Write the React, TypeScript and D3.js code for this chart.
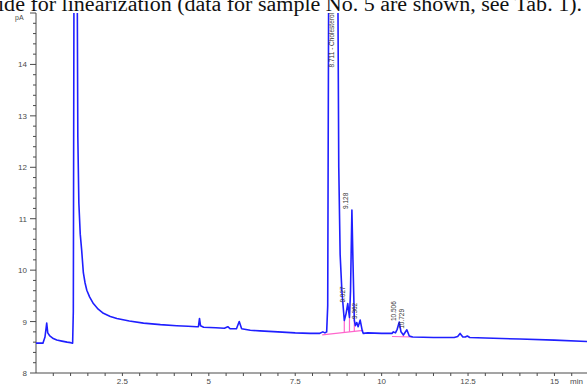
import React from 'react';
import * as d3 from 'd3';

// chromatogram trace (time in min, signal in pA)
const timeMin = [
  0.0, 0.2, 0.26, 0.31, 0.34, 0.4, 0.5, 0.6, 0.75, 0.9, 1.0, 1.06, 1.08, 1.1, 1.19,
  1.21, 1.24, 1.28, 1.32, 1.37, 1.42, 1.47, 1.55, 1.66, 1.8, 1.95, 2.15, 2.34, 2.7,
  3.11, 3.6, 4.07, 4.4, 4.65, 4.7, 4.73, 4.76, 4.85, 5.2, 5.45, 5.55, 5.62, 5.8, 5.88,
  5.95, 6.2, 6.48, 7.0, 7.5, 7.93, 8.2, 8.3, 8.36, 8.41, 8.44, 8.47, 8.73, 8.76, 8.8,
  8.85, 8.92, 8.97, 9.02, 9.07, 9.1, 9.14, 9.17, 9.21, 9.24, 9.28, 9.32, 9.38, 9.44,
  9.47, 9.6, 10.0, 10.3, 10.34, 10.4, 10.45, 10.51, 10.56, 10.63, 10.73, 10.8, 10.9,
  11.5, 12.1, 12.2, 12.27, 12.35, 12.42, 12.48, 12.55, 13.0, 14.0, 15.0, 16.0,
];
const signalPA = [
  8.58, 8.58, 8.7, 8.97, 8.78, 8.72, 8.67, 8.64, 8.62, 8.6, 8.59, 8.58, 9.2, 16, 16,
  12.6, 11.3, 10.7, 10.4, 9.95, 9.75, 9.61, 9.48, 9.35, 9.24, 9.16, 9.1, 9.06, 9.01,
  8.97, 8.94, 8.92, 8.91, 8.9, 8.9, 9.06, 8.92, 8.89, 8.88, 8.87, 8.9, 8.86, 8.86, 9.0,
  8.86, 8.83, 8.82, 8.8, 8.78, 8.77, 8.77, 8.8, 8.78, 8.8, 9.3, 16, 16, 12, 10.3,
  9.6, 9.02, 9.15, 9.35, 9.08, 9.6, 11.17, 10.2, 9.03, 8.92, 8.98, 8.9, 9.03, 8.82,
  8.77, 8.78, 8.77, 8.77, 8.8, 8.78, 8.85, 8.99, 8.8, 8.74, 8.84, 8.72, 8.7,
  8.69, 8.69, 8.71, 8.77, 8.7, 8.7, 8.72, 8.69, 8.68, 8.66, 8.64, 8.61,
];

// peak annotations
const peakTimes = [8.711, 9.027, 9.128, 9.362, 10.506, 10.729];
const peakLabels = ['8.711 - Cholesterol', '9.027', '9.128', '9.362', '10.506', '10.729'];

// integration baselines (pink)
const baseStartT = [8.28, 10.3];
const baseStartV = [8.74, 8.71];
const baseEndT = [9.47, 10.88];
const baseEndV = [8.83, 8.7];
const dropTimes = [8.92, 9.07, 9.21, 10.63];

const xTicks = [2.5, 5, 7.5, 10, 12.5, 15];
const yTicks = [8, 9, 10, 11, 12, 13, 14];

const W = 587;
const H = 387;
const margin = { top: 13, right: 0, bottom: 14, left: 36 };

export default function App() {
  const x = d3.scaleLinear().domain([0, 16]).range([margin.left, W - margin.right + 2]);
  const y = d3.scaleLinear().domain([8, 15]).range([H - margin.bottom, margin.top]);

  const pts: [number, number][] = timeMin.map((t, i) => [t, signalPA[i]]);
  const line = d3.line<[number, number]>()
    .x(d => x(d[0]))
    .y(d => y(d[1]));

  const interp = (t: number) => {
    const i = d3.bisector((d: [number, number]) => d[0]).left(pts, t);
    if (i <= 0) return pts[0][1];
    const a = pts[i - 1], b = pts[i];
    return a[1] + (b[1] - a[1]) * (t - a[0]) / (b[0] - a[0]);
  };
  const apex = (t: number) =>
    d3.max(pts.filter(p => Math.abs(p[0] - t) < 0.05), p => p[1]) ?? interp(t);

  const minorX = d3.range(0.5, 16, 0.5).filter(v => v % 2.5 !== 0);
  const minorY = d3.range(8.2, 15.01, 0.2).filter(v => Math.abs(v - Math.round(v)) > 0.01);

  const axisColor = '#4a4a4a';
  const traceColor = '#1f1fff';
  const pink = '#ff66cc';
  const x0 = margin.left;
  const yBottom = H - margin.bottom;

  return (
    <svg width={W} height={H} style={{ position: 'absolute', left: 0, top: 0 }}>
      <rect width={W} height={H} fill="#fff" />
      {/* tail of the paper's caption line above the figure */}
      <text x={-2} y={11} fontFamily="Liberation Serif, Times New Roman, serif" fontSize={20} fill="#111"
        textLength={584} lengthAdjust="spacingAndGlyphs">
        ide for linearization (data for sample No. 5 are shown, see Tab. 1).
      </text>

      <defs>
        <clipPath id="plot">
          <rect x={x0} y={margin.top} width={W - x0} height={yBottom - margin.top} />
        </clipPath>
      </defs>

      {/* axes */}
      <g fontFamily="Liberation Sans, Arial, sans-serif" fill={axisColor}>
        <line x1={x0} x2={x0} y1={margin.top} y2={yBottom} stroke={axisColor} strokeWidth={1} />
        <line x1={x0} x2={W} y1={yBottom} y2={yBottom} stroke={axisColor} strokeWidth={1} />
        {yTicks.concat([15]).map(v => (
          <line key={'yt' + v} x1={x0 - 6} x2={x0} y1={y(v)} y2={y(v)} stroke={axisColor} />
        ))}
        {minorY.map(v => (
          <line key={'ym' + v} x1={x0 - 3} x2={x0} y1={y(v)} y2={y(v)} stroke={axisColor} />
        ))}
        {yTicks.map(v => (
          <text key={'yl' + v} x={x0 - 9} y={y(v) + 3} textAnchor="end" fontSize={8}>{v}</text>
        ))}
        <text x={15} y={20} fontSize={7}>pA</text>

        {xTicks.map(v => (
          <line key={'xt' + v} x1={x(v)} x2={x(v)} y1={yBottom} y2={yBottom + 3} stroke={axisColor} />
        ))}
        {minorX.map(v => (
          <line key={'xm' + v} x1={x(v)} x2={x(v)} y1={yBottom} y2={yBottom + 3} stroke={axisColor} />
        ))}
        {xTicks.map(v => (
          <text key={'xl' + v} x={x(v)} y={yBottom + 11} textAnchor="middle" fontSize={8}>{v}</text>
        ))}
        <text x={570} y={yBottom + 11} fontSize={8}>min</text>
      </g>

      <g clipPath="url(#plot)">
        {/* integration baselines */}
        {baseStartT.map((t, i) => (
          <line key={'bl' + i} x1={x(t)} y1={y(baseStartV[i])} x2={x(baseEndT[i])} y2={y(baseEndV[i])}
            stroke={pink} strokeWidth={1.2} />
        ))}
        {dropTimes.map((t, i) => {
          const k = baseStartT.findIndex((s, j) => t >= s && t <= baseEndT[j]);
          const bv = baseStartV[k] + (baseEndV[k] - baseStartV[k]) * (t - baseStartT[k]) / (baseEndT[k] - baseStartT[k]);
          return (
            <line key={'dl' + i} x1={x(t)} x2={x(t)} y1={y(bv)} y2={y(interp(t))} stroke={pink} strokeWidth={1.2} />
          );
        })}
        <path d={line(pts) ?? ''} fill="none" stroke={traceColor} strokeWidth={1.6} strokeLinejoin="round" />
      </g>

      {/* peak labels */}
      <g fontFamily="Liberation Sans, Arial, sans-serif" fontSize={6.5} fill="#333">
        {peakTimes.map((t, i) => {
          const a = apex(t);
          const off = a >= 15;
          const ly = off ? margin.top : y(a) - 1;
          const lx = x(t) - 3;
          return (
            <text key={'pl' + i} x={lx} y={ly} textAnchor={off ? 'end' : 'start'}
              transform={`rotate(-90 ${lx} ${ly})`}>{peakLabels[i]}</text>
          );
        })}
      </g>
    </svg>
  );
}
